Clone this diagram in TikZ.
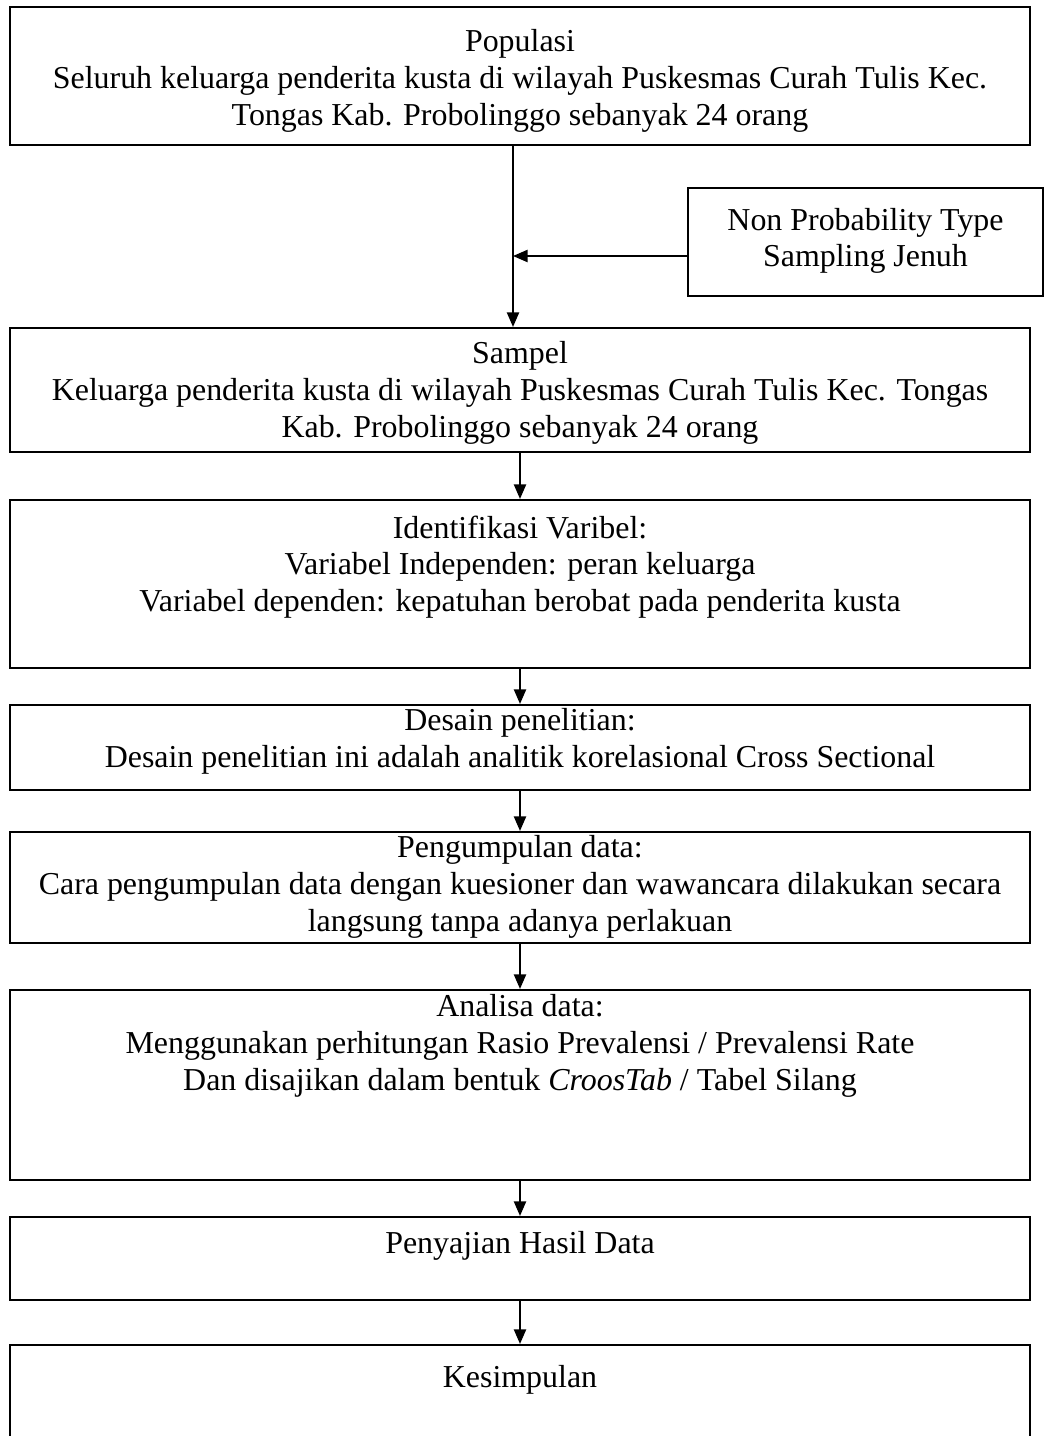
\documentclass[tikz,border=0pt]{standalone}
\usepackage{fontspec}
\setmainfont{Liberation Serif}
\usetikzlibrary{arrows.meta,calc}
\begin{document}
\begin{tikzpicture}[x=0.376pt,y=-0.376pt,
  box/.style={draw, line width=0.8pt, inner sep=0pt, minimum width=1020*0.376pt},
  txt/.style={align=center, font=\fontsize{12pt}{13.8pt}\selectfont, inner sep=0pt},
  arr/.style={line width=0.6pt, -{Triangle[length=5.5pt,width=4.6pt]}}]
\useasboundingbox (0,0) rectangle (1049,1436);
\clip (0,0) rectangle (1049,1436);
% boxes
\node[box, minimum height=138*0.376pt] (pop) at (520,76) {};
\node[box, minimum width=355*0.376pt, minimum height=108*0.376pt] (np) at (865.5,242) {};
\node[box, minimum height=124*0.376pt] (sam) at (520,390) {};
\node[box, minimum height=168*0.376pt] (idv) at (520,584) {};
\node[box, minimum height=85*0.376pt] (des) at (520,747.5) {};
\node[box, minimum height=111*0.376pt] (peng) at (520,887.5) {};
\node[box, minimum height=190*0.376pt] (ana) at (520,1085) {};
\node[box, minimum height=83*0.376pt] (pen) at (520,1258.5) {};
\node[box, minimum height=125*0.376pt] (kes) at (520,1407.5) {};
% texts
\node[txt] (t1) at (520,81) {Populasi\\Seluruh keluarga penderita kusta di wilayah Puskesmas Curah Tulis Kec.\\Tongas Kab. Probolinggo sebanyak 24 orang};
\node[txt] (t2) at (865.5,241) {Non Probability Type\\Sampling Jenuh};
\node[txt] (t3) at (520,393) {Sampel\\Keluarga penderita kusta di wilayah Puskesmas Curah Tulis Kec. Tongas\\Kab. Probolinggo sebanyak 24 orang};
\node[txt] (t4) at (520,567) {Identifikasi Varibel:\\Variabel Independen: peran keluarga\\Variabel dependen: kepatuhan berobat pada penderita kusta};
\node[txt] (t5) at (520,741) {Desain penelitian:\\Desain penelitian ini adalah analitik korelasional Cross Sectional};
\node[txt] (t6) at (520,887) {Pengumpulan data:\\Cara pengumpulan data dengan kuesioner dan wawancara dilakukan secara\\langsung tanpa adanya perlakuan};
\node[txt] (t7) at (520,1046) {Analisa data:\\Menggunakan perhitungan Rasio Prevalensi / Prevalensi Rate\\Dan disajikan dalam bentuk \textit{CroosTab} / Tabel Silang};
\node[txt] (t8) at (520,1246) {Penyajian Hasil Data};
\node[txt] (t9) at (520,1380) {Kesimpulan};
% connectors
\coordinate (ax) at (513,0);
\coordinate (npa) at ($(np.west)+(0,14)$);
\draw[arr] (pop.south -| ax) -- (sam.north -| ax);
\draw[arr] (npa) -- (npa -| ax);
\draw[arr] (sam.south) -- (idv.north);
\draw[arr] (idv.south) -- (des.north);
\draw[arr] (des.south) -- (peng.north);
\draw[arr] (peng.south) -- (ana.north);
\draw[arr] (ana.south) -- (pen.north);
\draw[arr] (pen.south) -- (kes.north);
\end{tikzpicture}
\end{document}
